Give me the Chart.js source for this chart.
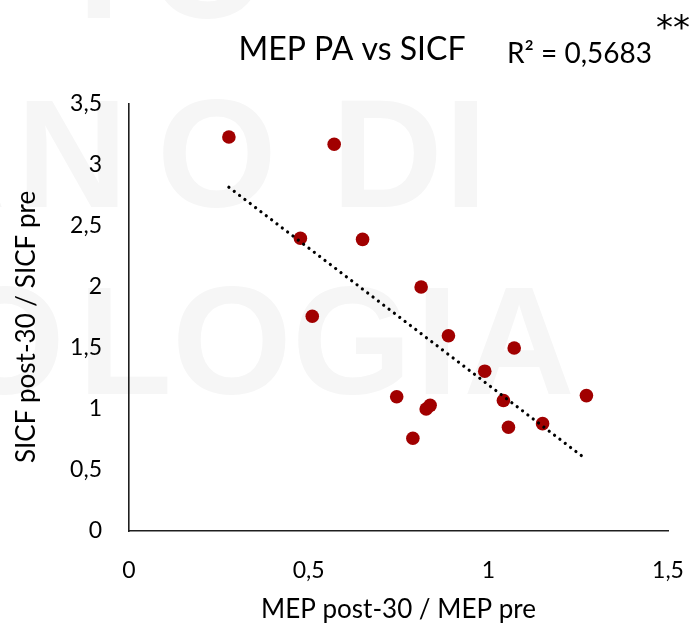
<!DOCTYPE html>
<html>
<head>
<meta charset="utf-8">
<script src="https://cdn.jsdelivr.net/npm/chart.js@4.4.0/dist/chart.umd.min.js"></script>
<style>
  html, body { margin: 0; padding: 0; background: #fff; }
</style>
</head>
<body>
<canvas id="mepSicfChart" width="698" height="624"></canvas>
<script>
// values
var mepRatio  = [0.278, 0.571, 0.477, 0.650, 0.813, 0.510, 0.889, 1.072, 0.990, 0.745, 0.827, 0.838, 1.042, 1.273, 0.790, 1.056, 1.151];
var sicfRatio = [3.23, 3.17, 2.40, 2.39, 2.00, 1.76, 1.60, 1.50, 1.31, 1.10, 1.00, 1.03, 1.07, 1.11, 0.76, 0.85, 0.88];
var xTicks = [0, 0.5, 1, 1.5];
var yTicks = [0, 0.5, 1, 1.5, 2, 2.5, 3, 3.5];
var chartTitle = 'MEP PA vs SICF';
var rSquaredLabel = 'R² = 0,5683';
var significance = '**';
var xTitle = 'MEP post-30 / MEP pre';
var yTitle = 'SICF post-30 / SICF pre';

var FONT = 'Lato';

document.addEventListener('DOMContentLoaded', function () {
    var points = mepRatio.map(function (x, i) { return { x: x, y: sicfRatio[i] }; });

    // linear trendline (least squares), drawn from min x to max x like Excel
    var n = mepRatio.length;
    var mx = mepRatio.reduce(function (a, b) { return a + b; }, 0) / n;
    var my = sicfRatio.reduce(function (a, b) { return a + b; }, 0) / n;
    var sxy = 0, sxx = 0;
    for (var i = 0; i < n; i++) {
        sxy += (mepRatio[i] - mx) * (sicfRatio[i] - my);
        sxx += (mepRatio[i] - mx) * (mepRatio[i] - mx);
    }
    var slope = sxy / sxx;
    var intercept = my - slope * mx;
    var xMin = Math.min.apply(null, mepRatio);
    var xMax = Math.max.apply(null, mepRatio);
    var trend = [
        { x: xMin, y: intercept + slope * xMin },
        { x: xMax, y: intercept + slope * xMax }
    ];

    var commaLabel = function (value) { return String(value).replace('.', ','); };

    // faint watermark letters behind the plot
    var watermark = [
        ['I', 99, 18], ['O', 208, 18],
        ['A', -50, 207], ['N', 72, 207], ['O', 217, 207], ['D', 387, 207], ['I', 466, 207],
        ['O', 5, 394], ['L', 125, 394], ['O', 232, 394], ['G', 352, 394], ['I', 437, 394], ['A', 519, 394]
    ];

    var decorPlugin = {
        id: 'decor',
        beforeDraw: function (chart) {
            var c = chart.ctx;
            c.save();
            c.fillStyle = '#ffffff';
            c.fillRect(0, 0, chart.width, chart.height);
            c.fillStyle = '#f6f6f6';
            c.font = 'bold 154px "Liberation Sans"';
            c.textAlign = 'center';
            c.textBaseline = 'alphabetic';
            watermark.forEach(function (w) { c.fillText(w[0], w[1], w[2]); });
            c.restore();
        },
        afterDraw: function (chart) {
            var c = chart.ctx;
            var area = chart.chartArea;
            c.save();
            c.fillStyle = '#000';
            c.textBaseline = 'alphabetic';

            c.textAlign = 'center';
            c.font = '32px ' + FONT;
            c.fillText(chartTitle, 352, 60);

            c.textAlign = 'left';
            c.font = '28px ' + FONT;
            c.fillText(rSquaredLabel, 507, 63);
            c.font = '34px "DejaVu Sans"';
            c.fillText(significance, 656, 39);

            c.textAlign = 'center';
            c.font = '26px ' + FONT;
            c.fillText(xTitle, (area.left + area.right) / 2, 618);

            c.translate(35, 327);
            c.rotate(-Math.PI / 2);
            c.font = '26px ' + FONT;
            c.fillText(yTitle, 0, 0);
            c.restore();
        }
    };

    var ctx = document.getElementById('mepSicfChart').getContext('2d');
    var chart = new Chart(ctx, {
        type: 'scatter',
        data: {
            datasets: [{
                type: 'line',
                label: 'Trend',
                data: trend,
                borderColor: '#000',
                borderWidth: 3.2,
                borderDash: [0.01, 6.7],
                borderCapStyle: 'round',
                pointRadius: 0,
                fill: false,
                order: 0
            }, {
                label: 'MEP PA vs SICF',
                data: points,
                backgroundColor: '#a10000',
                borderColor: '#a10000',
                borderWidth: 0,
                pointRadius: 6.8,
                order: 1
            }]
        },
        options: {
            responsive: false,
            animation: false,
            layout: {
                padding: { left: 0, right: 0, top: 104, bottom: 0 }
            },
            scales: {
                x: {
                    type: 'linear',
                    min: 0,
                    max: 1.5,
                    afterBuildTicks: function (scale) {
                        scale.ticks = xTicks.map(function (v) { return { value: v }; });
                    },
                    afterFit: function (scale) {
                        scale.height = 93;
                        scale.paddingRight = 30;
                    },
                    grid: { display: false, drawTicks: false },
                    border: { display: true, color: '#1e1e1e', width: 1.6 },
                    ticks: {
                        color: '#000',
                        padding: 26,
                        font: { family: FONT, size: 23 },
                        callback: commaLabel
                    }
                },
                y: {
                    type: 'linear',
                    min: 0,
                    max: 3.5,
                    afterBuildTicks: function (scale) {
                        scale.ticks = yTicks.map(function (v) { return { value: v }; });
                    },
                    afterFit: function (scale) { scale.width = 129; },
                    grid: { display: false, drawTicks: false },
                    border: { display: true, color: '#1e1e1e', width: 1.6 },
                    ticks: {
                        color: '#000',
                        padding: 27,
                        font: { family: FONT, size: 23 },
                        callback: commaLabel
                    }
                }
            },
            plugins: {
                legend: { display: false },
                tooltip: { enabled: false },
                title: { display: false }
            }
        },
        plugins: [decorPlugin]
    });
});
</script>
</body>
</html>
